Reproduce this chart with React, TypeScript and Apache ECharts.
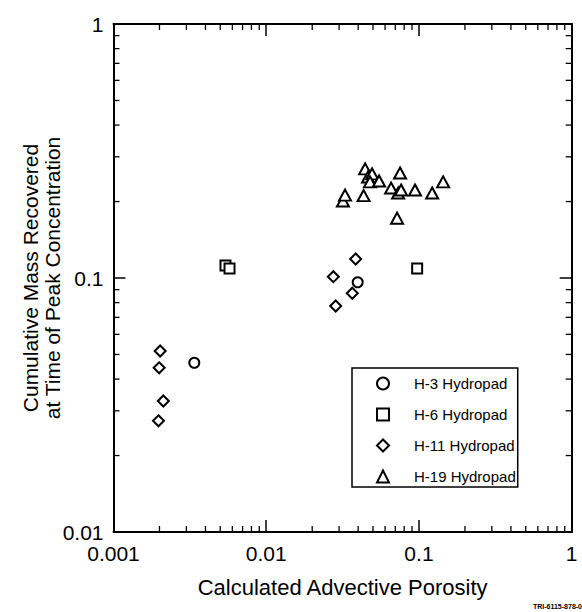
import React, { useEffect, useRef } from "react";
import * as echarts from "echarts";

// ---- data ----
const seriesNames = ["H-3 Hydropad", "H-6 Hydropad", "H-11 Hydropad", "H-19 Hydropad"];

const h3Porosity = [0.00338, 0.0397];
const h3Mass = [0.0464, 0.0962];

const h6Porosity = [0.00541, 0.00575, 0.0973];
const h6Mass = [0.112, 0.109, 0.109];

const h11Porosity = [0.00202, 0.00199, 0.00212, 0.00197, 0.0385, 0.0275, 0.0366, 0.0285];
const h11Mass = [0.0516, 0.0443, 0.0328, 0.0274, 0.1188, 0.1012, 0.0871, 0.0776];

const h19Porosity = [0.0318, 0.0328, 0.0434, 0.0444, 0.0464, 0.0493, 0.0478, 0.0548, 0.0752, 0.0657, 0.073, 0.0764, 0.0942, 0.122, 0.144, 0.0719];
const h19Mass = [0.201, 0.212, 0.211, 0.269, 0.25, 0.257, 0.239, 0.241, 0.259, 0.226, 0.216, 0.222, 0.222, 0.216, 0.239, 0.172];

const xTickLabels = ["0.001", "0.01", "0.1", "1"];
const yTickLabels = ["0.01", "0.1", "1"];
const xDecades = [0.001, 0.01, 0.1];
const yDecades = [0.01, 0.1];
const minorMultipliers = [2, 3, 4, 5, 6, 7, 8, 9];

const xTitle = "Calculated Advective Porosity";
const yTitle = "Cumulative Mass Recovered\nat Time of Peak Concentration";
const figureId = "TRI-6115-878-0";

const FONT = "'Liberation Sans', Arial, Helvetica, sans-serif";

function pairs(xs: number[], ys: number[]) {
  return xs.map((x, i) => [x, ys[i]]);
}

function labelFor(labels: string[], minExp: number) {
  return (v: number) => {
    const e = Math.round(Math.log10(v));
    return labels[e - minExp] ?? "";
  };
}

export default function App() {
  const ref = useRef<HTMLDivElement>(null);

  useEffect(() => {
    if (!ref.current) return;
    const chart = echarts.init(ref.current, undefined, { renderer: "svg" });

    const pointStyle = { color: "#fff", borderColor: "#000", borderWidth: 2, opacity: 1 };

    const axisCommon = {
      axisLine: { show: true, onZero: false, lineStyle: { color: "#000", width: 2 } },
      axisTick: { show: true, inside: true, length: 12, lineStyle: { color: "#000", width: 1.5 } },
      splitLine: { show: false },
      minorTick: { show: false },
    };

    const figureText = {
      id: "figid",
      type: "text",
      right: 0,
      bottom: 2,
      style: { text: figureId, font: `bold 7px ${FONT}`, fill: "#000" },
    };

    chart.setOption({
      animation: false,
      backgroundColor: "#fff",
      textStyle: { fontFamily: FONT },
      grid: { left: 113.5, top: 24, right: 10.3, bottom: 80, containLabel: false },
      xAxis: [
        {
          type: "log",
          logBase: 10,
          min: 0.001,
          max: 1,
          position: "bottom",
          ...axisCommon,
          axisLabel: {
            show: true,
            margin: 11,
            fontSize: 21,
            color: "#000",
            fontFamily: FONT,
            formatter: labelFor(xTickLabels, -3),
          },
          name: xTitle,
          nameLocation: "middle",
          nameGap: 44,
          nameMoveOverlap: false,
          nameTextStyle: { fontSize: 22, color: "#000", fontFamily: FONT },
        },
        {
          type: "log",
          logBase: 10,
          min: 0.001,
          max: 1,
          position: "top",
          ...axisCommon,
          axisLabel: { show: false },
        },
      ],
      yAxis: [
        {
          type: "log",
          logBase: 10,
          min: 0.01,
          max: 1,
          position: "left",
          ...axisCommon,
          axisLabel: {
            show: true,
            margin: 10,
            fontSize: 21,
            color: "#000",
            fontFamily: FONT,
            formatter: labelFor(yTickLabels, -2),
          },
          name: yTitle,
          nameLocation: "middle",
          nameGap: 50,
          nameMoveOverlap: false,
          nameTextStyle: { fontSize: 21, lineHeight: 22, color: "#000", fontFamily: FONT },
        },
        {
          type: "log",
          logBase: 10,
          min: 0.01,
          max: 1,
          position: "right",
          ...axisCommon,
          axisLabel: { show: false },
        },
      ],
      legend: {
        data: seriesNames,
        orient: "vertical",
        left: 352,
        top: 368,
        padding: [8, 2, 3, 24],
        itemWidth: 12,
        itemHeight: 12,
        itemGap: 16,
        borderColor: "#000",
        borderWidth: 1.5,
        borderRadius: 0,
        backgroundColor: "#fff",
        itemStyle: { color: "#fff", borderColor: "#000", borderWidth: 2, opacity: 1 },
        textStyle: { fontSize: 15, color: "#000", fontFamily: FONT, padding: [0, 0, 0, 20] },
        selectedMode: false,
      },
      graphic: [figureText],
      series: [
        {
          type: "scatter",
          name: seriesNames[0],
          symbol: "circle",
          symbolSize: 10,
          itemStyle: pointStyle,
          z: 3,
          data: pairs(h3Porosity, h3Mass),
        },
        {
          type: "scatter",
          name: seriesNames[1],
          symbol: "rect",
          symbolSize: 10,
          itemStyle: pointStyle,
          z: 3,
          data: pairs(h6Porosity, h6Mass),
        },
        {
          type: "scatter",
          name: seriesNames[2],
          symbol: "diamond",
          symbolSize: 11,
          itemStyle: pointStyle,
          z: 3,
          data: pairs(h11Porosity, h11Mass),
        },
        {
          type: "scatter",
          name: seriesNames[3],
          symbol: "triangle",
          symbolSize: [12, 11],
          itemStyle: pointStyle,
          z: 3,
          data: pairs(h19Porosity, h19Mass),
        },
      ],
    });

    // Minor ticks (2..9 in each decade) placed through the axes' own scales.
    const MINOR = 6;
    const px = (v: number) => chart.convertToPixel({ xAxisIndex: 0 }, v) as number;
    const py = (v: number) => chart.convertToPixel({ yAxisIndex: 0 }, v) as number;
    const left = px(0.001);
    const right = px(1);
    const top = py(1);
    const bottom = py(0.01);
    const ticks: any[] = [];
    const line = (x1: number, y1: number, x2: number, y2: number) => ({
      type: "line",
      silent: true,
      z: 5,
      shape: { x1, y1, x2, y2 },
      style: { stroke: "#000", lineWidth: 1.3 },
    });
    xDecades.forEach((d) =>
      minorMultipliers.forEach((m) => {
        const x = px(d * m);
        ticks.push(line(x, bottom, x, bottom - MINOR));
        ticks.push(line(x, top, x, top + MINOR));
      })
    );
    yDecades.forEach((d) =>
      minorMultipliers.forEach((m) => {
        const y = py(d * m);
        ticks.push(line(left, y, left + MINOR, y));
        ticks.push(line(right, y, right - MINOR, y));
      })
    );
    chart.setOption({ graphic: [figureText, ...ticks] }, { replaceMerge: ["graphic"] });

    return () => chart.dispose();
  }, []);

  return (
    <div
      ref={ref}
      style={{ position: "fixed", left: 0, top: 0, width: 582, height: 612, background: "#fff" }}
    />
  );
}
